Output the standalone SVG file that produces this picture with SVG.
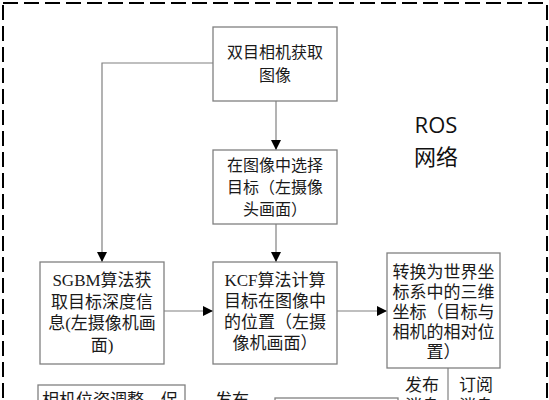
<svg xmlns="http://www.w3.org/2000/svg" width="549" height="400" viewBox="0 0 549 400">
<style>
.box{fill:#fff;stroke:#808080;stroke-width:1.3}
.ln{fill:none;stroke:#808080;stroke-width:1.2}
.t{font-family:"Liberation Serif","Noto Sans CJK SC",serif;font-size:17px;fill:#1a1a1a;text-anchor:middle}
.t16{font-size:16px}
.ros{font-family:"Open Sans","Noto Sans CJK SC",sans-serif;font-size:22px;fill:#111;text-anchor:middle}
</style>
<defs>
<marker id="ar" viewBox="0 0 10 10" refX="10" refY="5" markerWidth="10" markerHeight="10" markerUnits="userSpaceOnUse" orient="auto">
<path d="M0,0 L10,5 L0,10 Z" fill="#000"/>
</marker>
</defs>
<rect x="3" y="3" width="544" height="420" fill="none" stroke="#000" stroke-width="2" stroke-dasharray="15,6"/>
<g id="ros-label">
<text class="ros" x="436" y="133">ROS</text>
<text class="ros" x="436" y="165">网络</text>
</g>
<g id="connectors">
<path class="ln" d="M213,63 H102 V262" marker-end="url(#ar)"/>
<path class="ln" d="M276,101 V150" marker-end="url(#ar)"/>
<path class="ln" d="M276,224 V262" marker-end="url(#ar)"/>
<path class="ln" d="M164,311 H213" marker-end="url(#ar)"/>
<path class="ln" d="M337,311 H387" marker-end="url(#ar)"/>
<path class="ln" d="M448,368 V410"/>
</g>
<g id="n1">
<rect class="box" x="213" y="27" width="124" height="74"/>
<text class="t t16" x="275" y="58">双目相机获取</text>
<text class="t t16" x="275" y="81">图像</text>
</g>
<g id="n2">
<rect class="box" x="213" y="150" width="124" height="74"/>
<text class="t t16" x="275" y="171">在图像中选择</text>
<text class="t t16" x="275" y="193">目标（左摄像</text>
<text class="t t16" x="275" y="215">头画面）</text>
</g>
<g id="n3">
<rect class="box" x="40" y="262" width="124" height="102"/>
<text class="t" x="102" y="286">SGBM算法获</text>
<text class="t" x="102" y="308">取目标深度信</text>
<text class="t" x="102" y="329">息(左摄像机画</text>
<text class="t" x="102" y="351">面)</text>
</g>
<g id="n4">
<rect class="box" x="213" y="262" width="124" height="102"/>
<text class="t" x="275" y="286">KCF算法计算</text>
<text class="t" x="275" y="307">目标在图像中</text>
<text class="t" x="275" y="328">的位置（左摄</text>
<text class="t" x="275" y="349">像机画面）</text>
</g>
<g id="n5">
<rect class="box" x="387" y="253" width="113" height="115"/>
<text class="t" x="443.5" y="278">转换为世界坐</text>
<text class="t" x="443.5" y="298">标系中的三维</text>
<text class="t" x="443.5" y="318">坐标（目标与</text>
<text class="t" x="443.5" y="338">相机的相对位</text>
<text class="t" x="443.5" y="358">置）</text>
</g>
<g id="labels">
<text class="t" x="422" y="391">发布</text>
<text class="t" x="422" y="412">消息</text>
<text class="t" x="476" y="391">订阅</text>
<text class="t" x="476" y="412">消息</text>
<text class="t" x="232" y="406">发布</text>
</g>
<g id="n6">
<rect class="box" x="38" y="385" width="147" height="40"/>
<text class="t" x="42" y="406" style="text-anchor:start">相机位姿调整，促</text>
</g>
<g id="n7">
<rect class="box" x="275" y="398" width="123" height="30"/>
</g>
</svg>
